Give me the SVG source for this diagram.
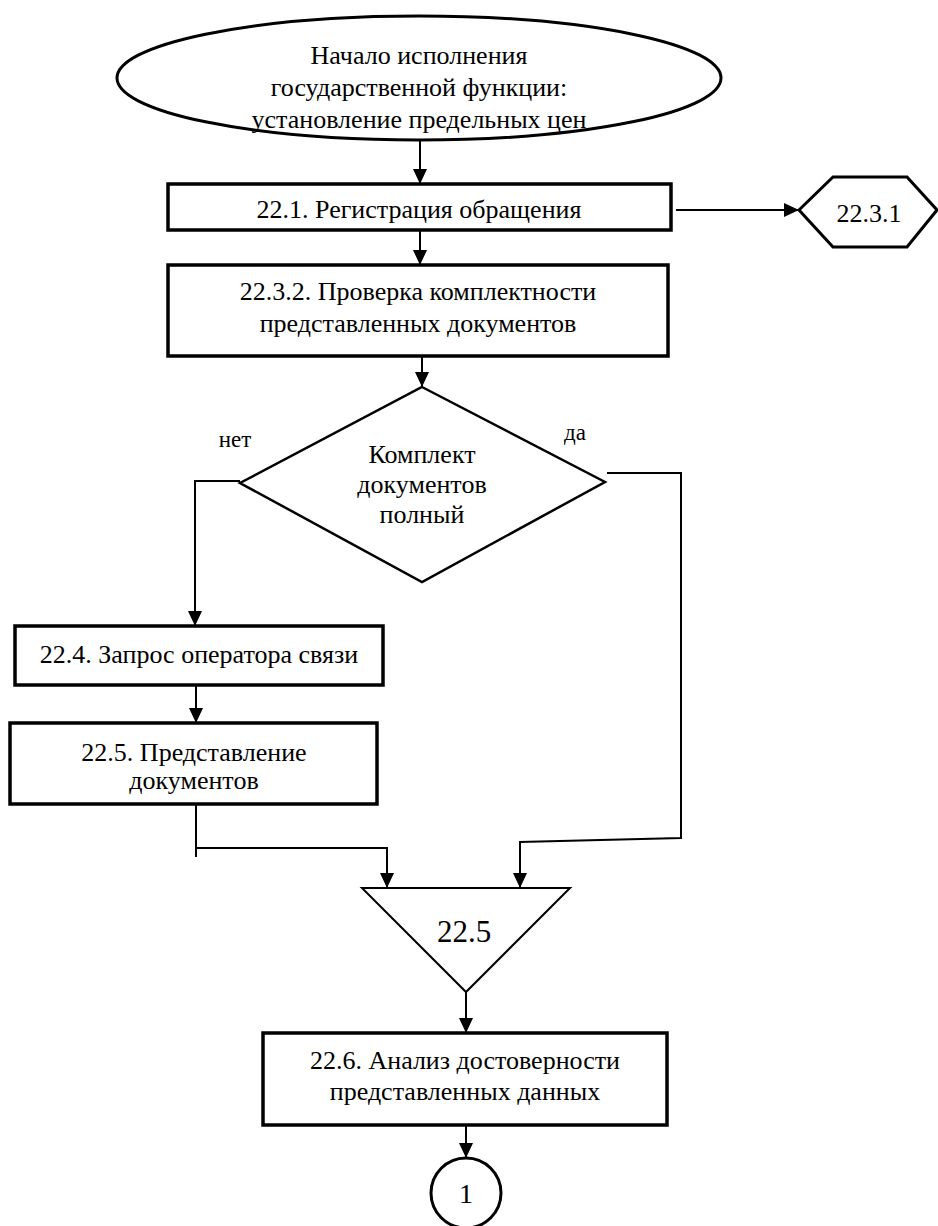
<svg xmlns="http://www.w3.org/2000/svg" width="938" height="1226" viewBox="0 0 938 1226">
<style>
  .shape { fill: #fff; stroke: #000; }
  .box { stroke-width: 3.5; }
  .t { font-family: "Liberation Serif", "Times New Roman", serif; font-size: 26px; fill: #000; text-anchor: middle; }
  .small { font-size: 23px; }
  .big { font-size: 31px; }
  .conn line, .conn polyline { fill: none; stroke: #000; stroke-width: 2; }
</style>
<defs>
  <marker id="arrow" markerUnits="userSpaceOnUse" markerWidth="15" markerHeight="14" refX="15" refY="7" orient="auto">
    <path d="M0,0 L15,7 L0,14 z" fill="#000"/>
  </marker>
</defs>
<rect width="938" height="1226" fill="#fff"/>

<g id="connectors" class="conn">
  <line x1="420" y1="140" x2="420" y2="184" marker-end="url(#arrow)"/>
  <line x1="676" y1="210" x2="799" y2="210" marker-end="url(#arrow)"/>
  <line x1="420" y1="230" x2="420" y2="265" marker-end="url(#arrow)"/>
  <line x1="422" y1="356" x2="422" y2="387" marker-end="url(#arrow)"/>
  <polyline points="240,481 195,481 195,626" marker-end="url(#arrow)"/>
  <polyline points="607,473 681,473 681,838 520,842 520,888" marker-end="url(#arrow)"/>
  <line x1="196" y1="685" x2="196" y2="723" marker-end="url(#arrow)"/>
  <line x1="196" y1="804" x2="196" y2="857"/>
  <polyline points="196,848 387,848 387,888" marker-end="url(#arrow)"/>
  <line x1="466" y1="992" x2="466" y2="1033" marker-end="url(#arrow)"/>
  <line x1="466" y1="1125" x2="466" y2="1158" marker-end="url(#arrow)"/>
</g>

<g id="start">
  <ellipse class="shape" cx="419" cy="78" rx="302" ry="62" stroke-width="3"/>
  <text class="t" x="419" y="64">Начало исполнения</text>
  <text class="t" x="419" y="96">государственной функции:</text>
  <text class="t" x="419" y="128">установление предельных цен</text>
</g>

<g id="n22_1">
  <rect class="shape box" x="168" y="184" width="503" height="46"/>
  <text class="t" x="419" y="218">22.1. Регистрация обращения</text>
</g>

<g id="n22_3_1">
  <polygon class="shape" points="799,210 833,177 907,177 937,210 907,247 833,247" stroke-width="3"/>
  <text class="t" x="869" y="222">22.3.1</text>
</g>

<g id="n22_3_2">
  <rect class="shape box" x="168" y="265" width="500" height="91"/>
  <text class="t" x="418" y="300">22.3.2. Проверка комплектности</text>
  <text class="t" x="418" y="332">представленных документов</text>
</g>

<g id="decision">
  <polygon class="shape" points="422,387 605,482 422,582 240,483" stroke-width="2.5"/>
  <text class="t" x="422" y="463">Комплект</text>
  <text class="t" x="422" y="493">документов</text>
  <text class="t" x="422" y="523">полный</text>
  <text class="t small" x="235" y="447">нет</text>
  <text class="t small" x="575" y="440">да</text>
</g>

<g id="n22_4">
  <rect class="shape box" x="15" y="626" width="368" height="59"/>
  <text class="t" x="199" y="663">22.4. Запрос оператора связи</text>
</g>

<g id="n22_5">
  <rect class="shape box" x="10" y="723" width="367" height="81"/>
  <text class="t" x="194" y="761">22.5. Представление</text>
  <text class="t" x="194" y="789">документов</text>
</g>

<g id="merge22_5">
  <polygon class="shape" points="362,888 570,888 466,992" stroke-width="2"/>
  <text class="t big" x="464" y="942">22.5</text>
</g>

<g id="n22_6">
  <rect class="shape box" x="263" y="1033" width="404" height="92"/>
  <text class="t" x="465" y="1069">22.6. Анализ достоверности</text>
  <text class="t" x="465" y="1100">представленных данных</text>
</g>

<g id="connector1">
  <circle class="shape" cx="466" cy="1193" r="35" stroke-width="3"/>
  <text class="t" x="466" y="1203" style="font-size:28px">1</text>
</g>
</svg>
